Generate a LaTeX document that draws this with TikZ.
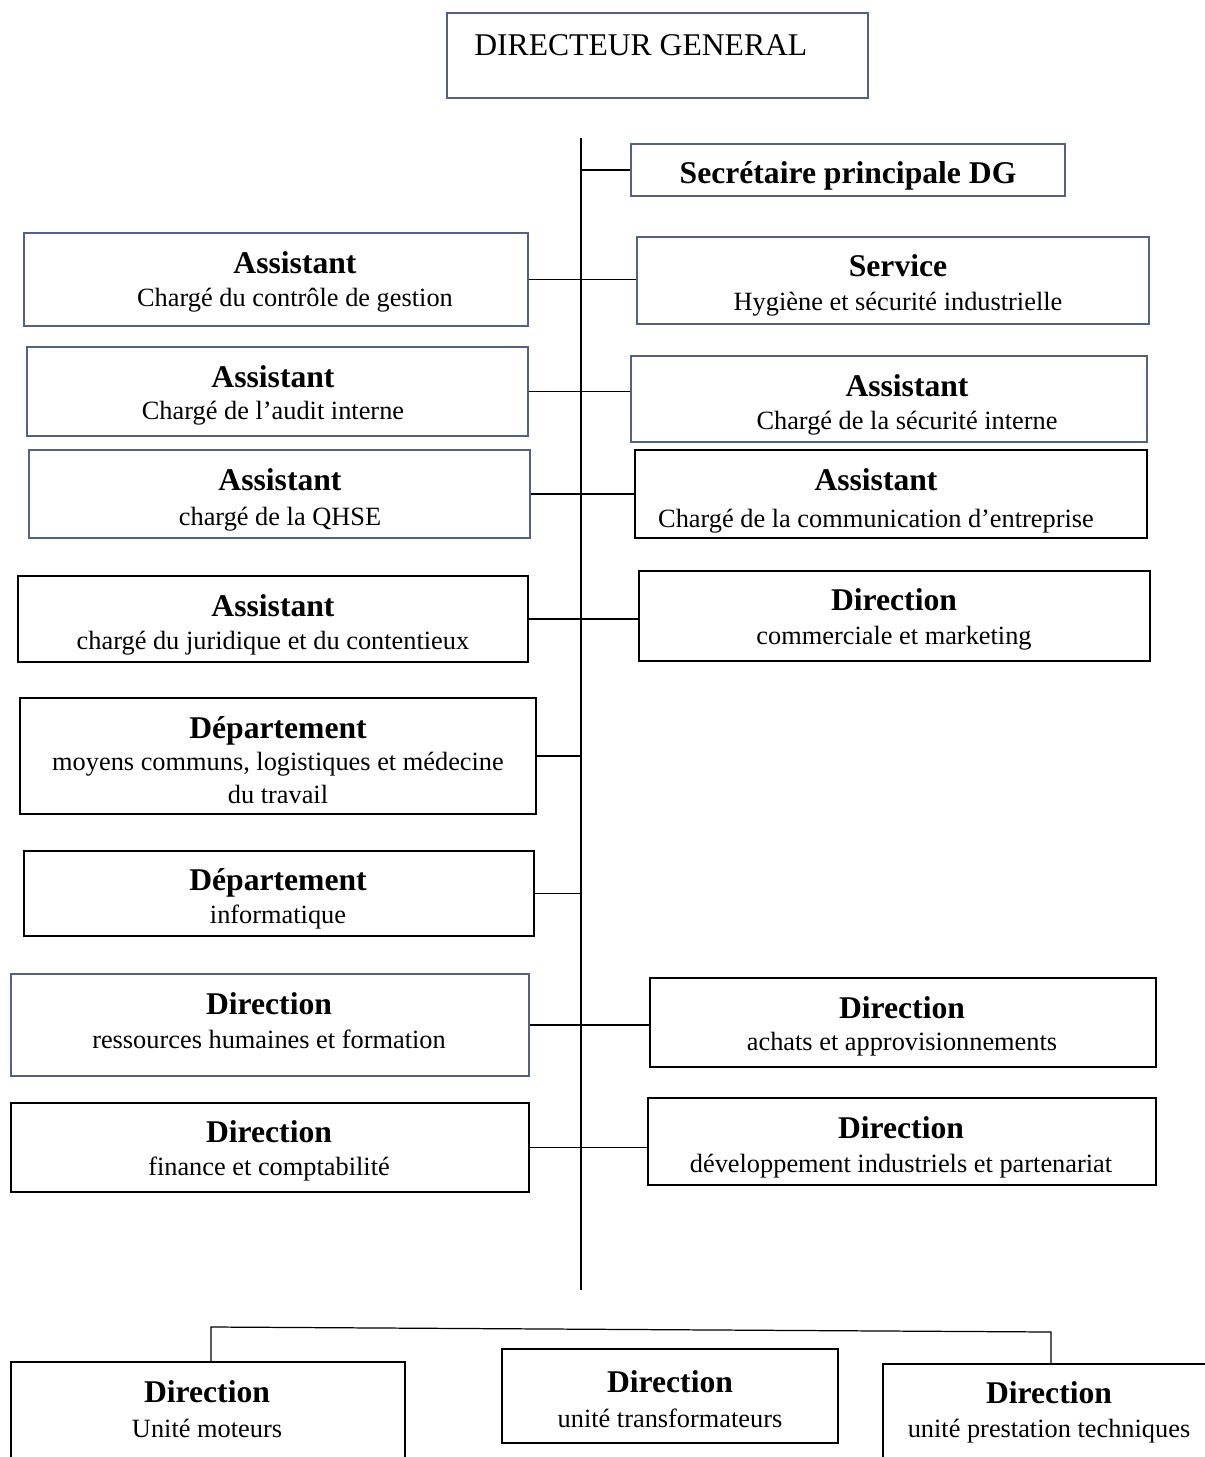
\documentclass[tikz,border=0pt]{standalone}
\usepackage{fontspec}
\setmainfont{Liberation Serif}
\usetikzlibrary{positioning}
\definecolor{slate}{RGB}{84,98,128}

\tikzset{
  box/.style={draw, line width=1.3pt, inner sep=0pt},
  hd/.style={anchor=base, inner sep=0pt, font=\fontsize{18}{21}\selectfont\bfseries},
  sub/.style={anchor=base, inner sep=0pt, font=\fontsize{15}{18}\selectfont},
  link/.style={line width=0.7pt}
}

\begin{document}
\begin{tikzpicture}[x=0.02cm, y=-0.02cm]
  \useasboundingbox (0,0) rectangle (1204,1457);

  %boxes: name/left/top/right/bottom/colour
  \foreach \name/\l/\t/\r/\b/\col in {dg/447/13/868/98/slate, sec/631/144/1065/196/slate,
      l1/24/233/528/326/slate, r1/637/237/1149/324/slate,
      l2/27/347/528/436/slate, r2/631/356/1147/442/slate,
      l3/29/450/530/538/slate, r3/635/450/1147/538/black,
      l4/18/576/528/662/black, r4/639/571/1150/661/black,
      l5/20/698/536/814/black, l6/24/851/534/936/black,
      l7/11/974/529/1076/slate, r7/650/978/1156/1067/black,
      l8/11/1103/529/1192/black, r8/648/1098/1156/1185/black,
      b1/11/1362/405/1500/black, b2/502/1349/838/1443/black, b3/883/1364/1230/1500/black}{
    \node[box, draw=\col, minimum width={(\r-\l)*0.02cm}, minimum height={(\b-\t)*0.02cm}]
      (\name) at ({(\l+\r)/2},{(\t+\b)/2}) {};
  }

  %texts
  \node[sub, anchor=base west, font=\fontsize{18}{21}\selectfont] (tdg) at (474,55) {DIRECTEUR GENERAL};
  \foreach \name/\x/\y/\st/\txt in {tsec/848/183/hd/{Secrétaire principale DG},
      l1h/295/273/hd/Assistant, l1s/295/306/sub/{Chargé du contrôle de gestion},
      r1h/898/276/hd/Service, r1s/898/310/sub/{Hygiène et sécurité industrielle},
      l2h/273/387/hd/Assistant, l2s/273/419/sub/{Chargé de l’audit interne},
      r2h/907/396/hd/Assistant, r2s/907/429/sub/{Chargé de la sécurité interne},
      l3h/280/490/hd/Assistant, l3s/280/525/sub/{chargé de la QHSE},
      r3h/876/490/hd/Assistant, r3s/876/527/sub/{Chargé de la communication d’entreprise},
      l4h/273/616/hd/Assistant, l4s/273/649/sub/{chargé du juridique et du contentieux},
      r4h/894/610/hd/Direction, r4s/894/644/sub/{commerciale et marketing},
      l5h/278/738/hd/Département, l5s/278/770/sub/{moyens communs, logistiques et médecine},
      l5t/278/803/sub/{du travail},
      l6h/278/890/hd/Département, l6s/278/923/sub/informatique,
      l7h/269/1014/hd/Direction, l7s/269/1048/sub/{ressources humaines et formation},
      r7h/902/1018/hd/Direction, r7s/902/1050/sub/{achats et approvisionnements},
      l8h/269/1142/hd/Direction, l8s/269/1175/sub/{finance et comptabilité},
      r8h/901/1138/hd/Direction, r8s/901/1172/sub/{développement industriels et partenariat},
      b1h/207/1402/hd/Direction, b1s/207/1437/sub/{Unité moteurs},
      b2h/670/1392/hd/Direction, b2s/670/1427/sub/{unité transformateurs},
      b3h/1049/1403/hd/Direction, b3s/1049/1437/sub/{unité prestation techniques}}{
    \node[\st] (\name) at (\x,\y) {\txt};
  }

  %spine
  \coordinate (top) at (581,138);
  \coordinate (bot) at (581,1290);
  \draw[link] (top) -- (bot);

  %connectors
  \draw[link] (sec.west) -- (sec.west -| top);
  \foreach \a/\b in {l1/r1, l2/r2, l3/r3, l4/r4, l7/r7, l8/r8}{
    \draw[link] (\a.east) -- (\a.east -| \b.west);
  }
  \foreach \a in {l5, l6}{
    \draw[link] (\a.east) -- (\a.east -| top);
  }

  %units
  \coordinate (bl) at (211,1327);
  \coordinate (br) at (1051,1332);
  \draw[link] (b1.north -| bl) -- (bl) -- (br) -- (b3.north -| br);
\end{tikzpicture}
\end{document}
